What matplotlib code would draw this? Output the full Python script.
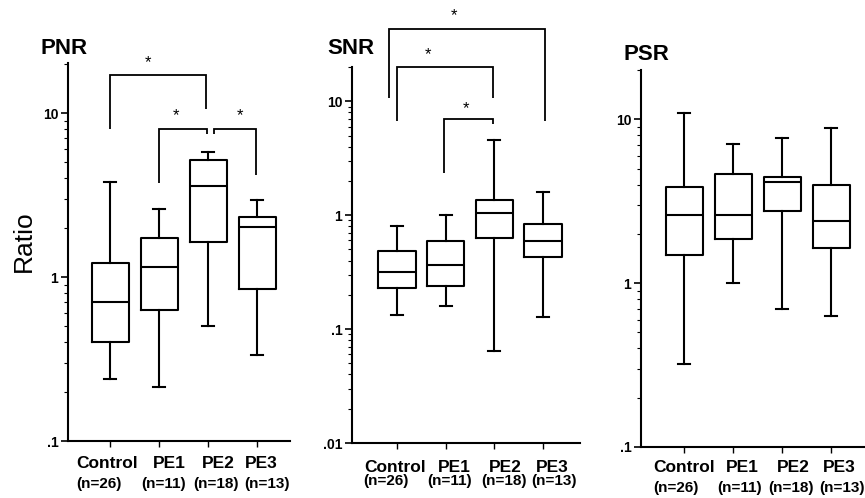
import matplotlib
matplotlib.use("Agg")
import matplotlib.pyplot as plt
from matplotlib.ticker import FixedLocator, LogLocator, NullFormatter
from matplotlib.transforms import blended_transform_factory
import numpy as np

plt.rcParams['font.family'] = ['Liberation Sans', 'DejaVu Sans']

groups = ["Control", "PE1", "PE2", "PE3"]
ns = ["(n=26)", "(n=11)", "(n=18)", "(n=13)"]

# PNR box stats
pnr_whislo = [0.238, 0.214, 0.505, 0.333]
pnr_q1 = [0.40, 0.629, 1.63, 0.84]
pnr_med = [0.707, 1.156, 3.6, 2.03]
pnr_q3 = [1.22, 1.74, 5.17, 2.31]
pnr_whishi = [3.81, 2.59, 5.76, 2.96]

# SNR box stats
snr_whislo = [0.133, 0.158, 0.0637, 0.127]
snr_q1 = [0.229, 0.237, 0.637, 0.426]
snr_med = [0.316, 0.366, 1.04, 0.595]
snr_q3 = [0.486, 0.595, 1.35, 0.834]
snr_whishi = [0.805, 1.0, 4.58, 1.61]

# PSR box stats
psr_whislo = [0.319, 1.0, 0.70, 0.63]
psr_q1 = [1.48, 1.85, 2.75, 1.65]
psr_med = [2.59, 2.59, 4.13, 2.41]
psr_q3 = [3.84, 4.62, 4.45, 3.98]
psr_whishi = [10.99, 7.1, 7.7, 8.9]

W, H = 865, 498
fig = plt.figure(figsize=(W / 100, H / 100), dpi=100)


def make_axes(left, right, bottom, top):
    return fig.add_axes([left / W, 1 - bottom / H, (right - left) / W, (bottom - top) / H])


def stats(lo, q1, med, q3, hi):
    return [dict(whislo=a, q1=b, med=c, q3=d, whishi=e, fliers=[])
            for a, b, c, d, e in zip(lo, q1, med, q3, hi)]


lw = 1.5
props = dict(color='black', linewidth=lw)


def draw_panel(ax, st, ylim, yticks, yticklabels, xlim, bw, title, title_xy,
               lab_x, n_x, lab_y, n_y):
    ax.bxp(st, positions=range(4), widths=bw, showfliers=False,
           boxprops=props, medianprops=props, whiskerprops=props,
           capprops=props, capwidths=0.25)
    ax.set_yscale('log')
    ax.set_ylim(*ylim)
    ax.set_xlim(*xlim)
    ax.yaxis.set_major_locator(FixedLocator(yticks))
    ax.set_yticklabels(yticklabels, fontsize=10, fontweight='bold')
    ax.yaxis.set_minor_locator(LogLocator(base=10, subs=np.arange(2, 10)))
    ax.yaxis.set_minor_formatter(NullFormatter())
    ax.set_xticks(range(4))
    ax.set_xticklabels([])
    ax.tick_params(axis='y', which='major', length=5, width=1.2, pad=2)
    ax.tick_params(axis='y', which='minor', length=3, width=0.8)
    ax.tick_params(axis='x', length=4, width=1.0)
    for s in ['top', 'right']:
        ax.spines[s].set_visible(False)
    for s in ['left', 'bottom']:
        ax.spines[s].set_linewidth(1.5)
    fig.text(title_xy[0] / W, 1 - title_xy[1] / H, title, fontsize=16,
             fontweight='bold', ha='center', va='center')
    tr = blended_transform_factory(ax.transData, fig.transFigure)
    for g, n, lx, nx in zip(groups, ns, lab_x, n_x):
        ax.text(lx, 1 - lab_y / H, g, transform=tr, ha='center', va='center',
                fontsize=12.5, fontweight='bold', clip_on=False)
        ax.text(nx, 1 - n_y / H, n, transform=tr, ha='center', va='center',
                fontsize=11, fontweight='bold', clip_on=False)


def bracket(ax, x1, x2, top, y1, y2, sx, sy):
    ax.plot([x1, x1, x2, x2], [y1, top, top, y2], color='black', lw=1.3,
            clip_on=False, solid_capstyle='butt', solid_joinstyle='miter')
    ax.text(sx, sy, '*', ha='center', va='center', fontsize=12,
            clip_on=False)


# PNR
ax1 = make_axes(68, 290, 441, 63)
draw_panel(ax1, stats(pnr_whislo, pnr_q1, pnr_med, pnr_q3, pnr_whishi),
           (0.1, 20.2), [0.1, 1, 10], ['.1', '1', '10'], (-0.857, 3.67), 0.755,
           'PNR', (64, 48), [-0.06, 1.2, 2.2, 3.08], [-0.22, 1.1, 2.16, 3.2], 463, 484)
bracket(ax1, 0, 1.96, 17.1, 7.98, 10.6, 0.78, 20.3)
bracket(ax1, 1, 1.98, 7.98, 3.74, 7.45, 1.35, 9.6)
bracket(ax1, 2.12, 2.98, 7.98, 7.45, 4.19, 2.65, 9.6)
fig.text(24 / W, 1 - 241 / H, 'Ratio', rotation=90, fontsize=19,
         ha='center', va='center')

# SNR
ax2 = make_axes(352, 580, 443, 67)
draw_panel(ax2, stats(snr_whislo, snr_q1, snr_med, snr_q3, snr_whishi),
           (0.01, 20), [0.01, 0.1, 1, 10], ['.01', '.1', '1', '10'], (-0.924, 3.76), 0.77,
           'SNR', (351, 48), [-0.04, 1.17, 2.23, 3.2], [-0.23, 1.09, 2.2, 3.23], 467, 481)
bracket(ax2, -0.16, 3.04, 42.8, 10.6, 6.68, 1.17, 57)
bracket(ax2, 0, 1.97, 19.9, 6.68, 10.6, 0.64, 25.5)
bracket(ax2, 0.97, 1.97, 6.95, 2.33, 6.28, 1.42, 8.6)

# PSR
ax3 = make_axes(641, 865, 447, 70)
draw_panel(ax3, stats(psr_whislo, psr_q1, psr_med, psr_q3, psr_whishi),
           (0.1, 20), [0.1, 1, 10], ['.1', '1', '10'], (-0.878, 3.69), 0.755,
           'PSR', (646, 54), [0, 1.18, 2.22, 3.17], [-0.16, 1.14, 2.18, 3.22], 467, 488)

fig.savefig('out.png', dpi=100, facecolor='white')
